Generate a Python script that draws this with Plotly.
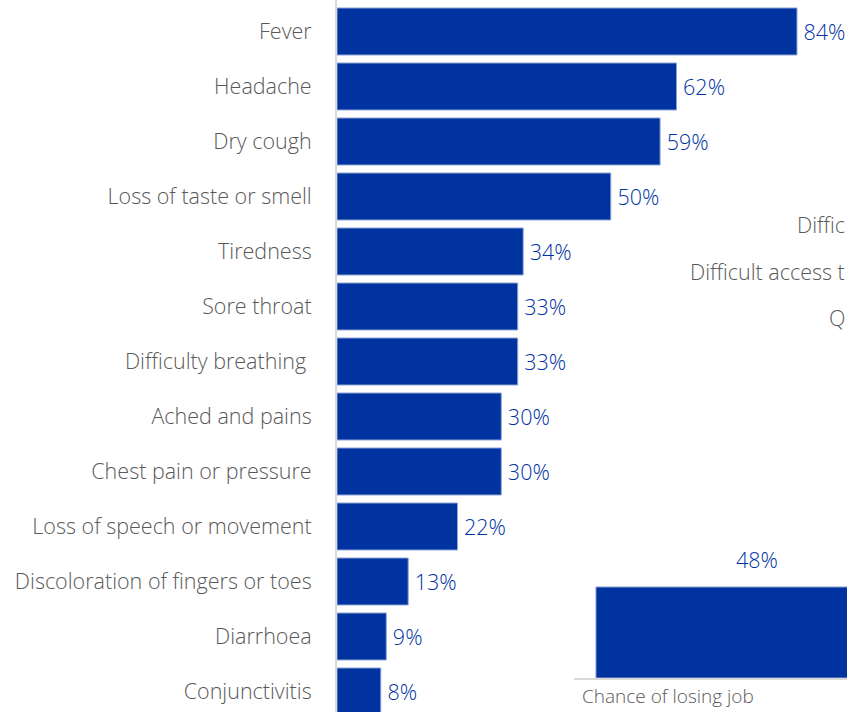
import plotly.graph_objects as go

# ---- data ----
symptoms = [
    "Fever", "Headache", "Dry cough", "Loss of taste or smell", "Tiredness",
    "Sore throat", "Difficulty breathing\u00a0", "Ached and pains",
    "Chest pain or pressure", "Loss of speech or movement",
    "Discoloration of fingers or toes", "Diarrhoea", "Conjunctivitis",
]
symptom_pct = [84, 62, 59, 50, 34, 33, 33, 30, 30, 22, 13, 9, 8]

second_categories = ["Chance of losing job"]
second_pct = [48]

side_labels = ["Diffic", "Difficult access t", "Q"]

# ---- style ----
BLUE = "#00339F"
EDGE = "#8fa6d8"
GREY = "#595959"
AXIS = "#d9d9d9"
FONT = "Open Sans"
WEIGHT = 300
FS = 21.5

W, H = 847, 712

fig = go.Figure()

fig.add_trace(go.Bar(
    x=symptom_pct, y=symptoms, orientation="h",
    marker=dict(color=BLUE, line=dict(color=EDGE, width=1)),
    width=0.855,
    text=[f"\u2009{v}%" for v in symptom_pct], textposition="outside",
    textfont=dict(color=BLUE, size=FS, family=FONT, weight=WEIGHT),
    cliponaxis=False, xaxis="x", yaxis="y",
))

fig.add_trace(go.Bar(
    x=second_categories, y=second_pct,
    marker=dict(color=BLUE, line=dict(color=EDGE, width=1)),
    width=0.88,
    xaxis="x2", yaxis="y2",
))
for c, v in zip(second_categories, second_pct):
    fig.add_annotation(text=f"{v}%", x=c, y=v, xref="x2", yref="y2",
                       yanchor="bottom", yshift=11, showarrow=False,
                       font=dict(color=BLUE, size=FS, family=FONT, weight=WEIGHT))
    fig.add_annotation(text=c, x=580 / W, y=(H - 711) / H, xref="paper", yref="paper",
                       xanchor="left", yanchor="bottom", showarrow=False,
                       font=dict(color=GREY, size=19, family=FONT, weight=WEIGHT))

px_per_pct = (797 - 337) / 84.0
x_left = 337
fig.update_layout(
    width=W, height=H,
    margin=dict(l=0, r=0, t=0, b=0),
    paper_bgcolor="white", plot_bgcolor="rgba(0,0,0,0)",
    showlegend=False,
    font=dict(family=FONT, size=FS, color=GREY),
    xaxis=dict(domain=[x_left / W, 1], range=[0, (W - x_left) / px_per_pct],
               visible=False, fixedrange=True),
    yaxis=dict(domain=[0, 1], categoryorder="array", categoryarray=symptoms,
               range=[(H - 31.5) / 55.0, -31.5 / 55.0],
               showline=True, linecolor=AXIS, linewidth=2, showgrid=False,
               ticks="", ticklabelstandoff=19,
               tickfont=dict(size=FS, color=GREY, family=FONT, weight=WEIGHT)),
    xaxis2=dict(domain=[574 / W, 1], anchor="y2", range=[-0.5, (W - 757) / 366.0],
                showline=True, linecolor=AXIS, linewidth=2, showgrid=False,
                ticks="", showticklabels=False),
    yaxis2=dict(domain=[(H - 678) / H, (H - 678 + 189.6) / H], anchor="x2",
                range=[0, 100], visible=False),
)

side_pos = [224, 271, 318]
for txt, sy in zip(side_labels, side_pos):
    fig.add_annotation(text=txt, xref="paper", yref="paper",
                       x=1, y=1 - sy / H, xanchor="right", yanchor="middle",
                       showarrow=False, font=dict(size=FS, color=GREY, family=FONT, weight=WEIGHT))

fig.write_html("out.html")
